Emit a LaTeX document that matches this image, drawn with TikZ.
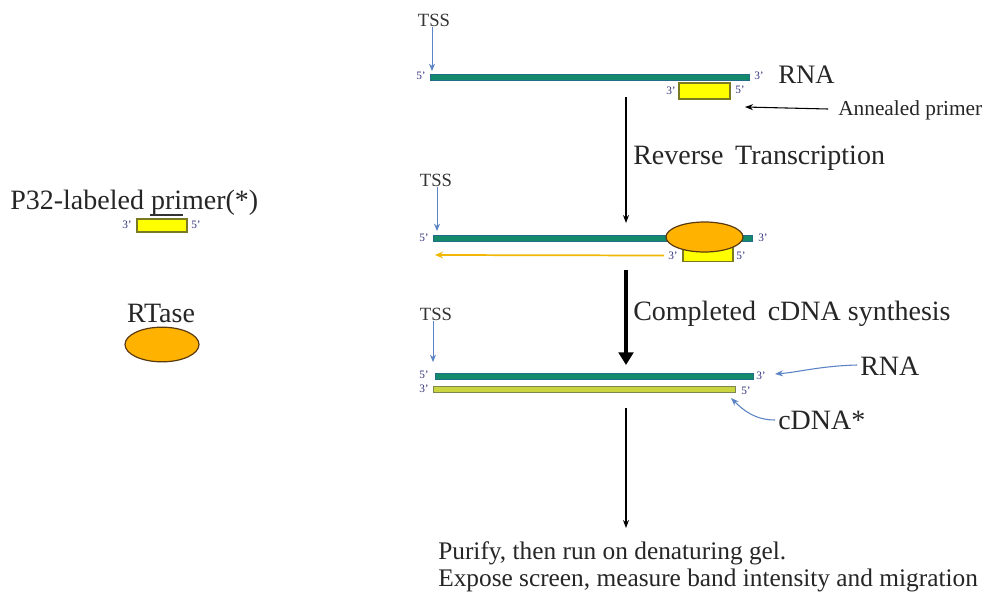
\documentclass[tikz,border=0pt]{standalone}
\usepackage{fontspec}
\setmainfont{Liberation Serif}
\usetikzlibrary{arrows.meta,shapes.geometric}
\definecolor{rnateal}{HTML}{138A6C}
\definecolor{rnaedge}{HTML}{1F6E86}
\definecolor{primfill}{HTML}{FFFF00}
\definecolor{primedge}{HTML}{7A7A22}
\definecolor{cdnafill}{HTML}{C9D43E}
\definecolor{cdnaedge}{HTML}{7E8650}
\definecolor{rtfill}{HTML}{FFB300}
\definecolor{rtedge}{HTML}{5A3A10}
\definecolor{tssblue}{HTML}{5B84C4}
\definecolor{endblue}{HTML}{34357F}
\definecolor{synth}{HTML}{F2B705}
\begin{document}
\begin{tikzpicture}[x=0.75pt,y=-0.75pt,
  big/.style={font=\fontsize{21}{25}\selectfont, inner sep=0pt, text=black!85},
  mid/.style={font=\fontsize{16}{19}\selectfont, inner sep=0pt, text=black!85},
  bottomtxt/.style={font=\fontsize{19}{23}\selectfont, inner sep=0pt, text=black!85, anchor=west},
  tsslbl/.style={font=\fontsize{14}{16}\selectfont, inner sep=0pt, text=black!80},
  endlbl/.style={font=\fontsize{8.5}{10}\selectfont, inner sep=0pt, text=endblue},
  rnabar/.style={rectangle, draw=rnaedge, fill=rnateal, line width=0.4pt, minimum height=4.5pt, inner sep=0pt, outer sep=0pt},
  cdnabar/.style={rectangle, draw=cdnaedge, fill=cdnafill, line width=0.6pt, minimum height=4.5pt, inner sep=0pt, outer sep=0pt},
  primerbox/.style={rectangle, draw=primedge, fill=primfill, line width=0.8pt, inner sep=0pt, outer sep=0pt},
  rtase/.style={ellipse, draw=rtedge, fill=rtfill, line width=0.9pt, inner sep=0pt},
  tssarrow/.style={draw=tssblue, line width=0.7pt, -{Stealth[length=5.5pt,width=4.5pt]}},
  thinarrow/.style={draw=black, line width=0.8pt, -{Stealth[length=6pt,width=4.5pt]}},
  thickarrow/.style={draw=black, line width=3pt, -{Triangle[length=9.5pt,width=11pt]}},
  blueptr/.style={draw=tssblue, line width=0.8pt, -{Stealth[length=6pt,width=4.5pt]}},
  synarrow/.style={draw=synth, line width=1.3pt, -{Stealth[length=6pt,width=5pt]}}
]
\useasboundingbox (0,0) rectangle (984,600);
\fill[white] (0,0) rectangle (984,600);

% ---------- left legend ----------
\node[big, anchor=west] (p32) at (10,203) {P32-labeled primer(*)};
\draw[black!80, line width=0.8pt] (150,215) -- (183,215);
\node[primerbox, minimum width=37.5pt, minimum height=9.75pt] (lprimer) at (162,225.5) {};
\node[endlbl] (lp3) at (127,225) {3'};
\node[endlbl] (lp5) at (196,225) {5'};
\node[big] (rtlbl) at (161,313) {RTase};
\node[rtase, minimum width=55.5pt, minimum height=26pt] (rtleft) at (162,344.5) {};

% ---------- row 1 ----------
\node[tsslbl] (tss1) at (434,20) {TSS};
\node[rnabar, minimum width=239.25pt] (rna1) at (589.5,77) {};
\coordinate (tss1end) at (432,71);
\draw[tssarrow] (tss1.south -| tss1end) -- (tss1end);
\node[endlbl] (r1l5) at (421,76) {5'};
\node[endlbl] (r1r3) at (759,76) {3'};
\node[big, anchor=west, font=\fontsize{20}{24}\selectfont] (rnalbl1) at (778,75) {RNA};
\node[primerbox, minimum width=38.25pt, minimum height=12pt] (primer1) at (704.5,91) {};
\node[endlbl] (p1l3) at (671,91) {3'};
\node[endlbl] (p1r5) at (740,90) {5'};
\node[mid, anchor=west] (annealed) at (838,110) {Annealed primer};
\coordinate (annend) at (745,107);
\draw[thinarrow] (annealed.west) ++(-10,-1) -- (annend);

% arrow 1
\coordinate (a1s) at (626,97);
\coordinate (a1e) at (626,223);
\draw[thinarrow] (a1s) -- (a1e);
\node[big, anchor=west] (rtrans) at (633,158) {Reverse\, Transcription};

% ---------- row 2 ----------
\node[tsslbl] (tss2) at (436,180) {TSS};
\node[rnabar, minimum width=239.25pt] (rna2) at (592.5,238) {};
\coordinate (tss2end) at (437,231);
\draw[tssarrow] (tss2.south -| tss2end) -- (tss2end);
\node[endlbl] (r2l5) at (424,238) {5'};
\node[endlbl] (r2r3) at (763,238) {3'};
\node[primerbox, minimum width=37.5pt, minimum height=10.5pt] (primer2) at (708,254.5) {};
\node[rtase, minimum width=57.75pt, minimum height=22.5pt] (rt2) at (704.5,237) {};
\node[endlbl] (p2l3) at (673,256) {3'};
\node[endlbl] (p2r5) at (741,256) {5'};
\coordinate (synend) at (435,255);
\draw[synarrow] (p2l3.west) ++(-4,-0.5) -- (synend);

% thick arrow
\coordinate (a2s) at (626,270);
\coordinate (a2e) at (626,365);
\draw[thickarrow] (a2s) -- (a2e);
\node[big, anchor=west] (compl) at (633,314) {Completed\, cDNA synthesis};

% ---------- row 3 ----------
\node[tsslbl] (tss3) at (436,314) {TSS};
\node[rnabar, minimum width=238.5pt] (rna3) at (594,376) {};
\node[cdnabar, minimum width=226.5pt] (cdna3) at (584,389) {};
\coordinate (tss3end) at (433,362);
\draw[tssarrow] (tss3.south -| tss3end) -- (tss3end);
\node[endlbl] (r3l5) at (424,375) {5'};
\node[endlbl] (c3l3) at (424,389) {3'};
\node[endlbl] (r3r3) at (761,376) {3'};
\node[endlbl] (c3r5) at (746,391) {5'};
\node[big, anchor=west] (rnalbl3) at (860,366) {RNA};
\node[big, anchor=west] (cdnalbl) at (778,420) {cDNA*};
\coordinate (rnaptr) at (775,374);
\coordinate (cdnaptr) at (731,398);
\draw[blueptr] (rnalbl3.west) ++(-3,-1) .. controls (820,366) and (800,372) .. (rnaptr);
\draw[blueptr] (cdnalbl.west) ++(-3,0) .. controls (755,420) and (743,410) .. (cdnaptr);

% arrow 3
\coordinate (a3s) at (626,408);
\coordinate (a3e) at (626,528);
\draw[thinarrow] (a3s) -- (a3e);
\node[bottomtxt] (purify) at (438,553) {Purify, then run on denaturing gel.};
\node[bottomtxt] (expose) at (438,580) {Expose screen, measure band intensity and migration};
\end{tikzpicture}
\end{document}
